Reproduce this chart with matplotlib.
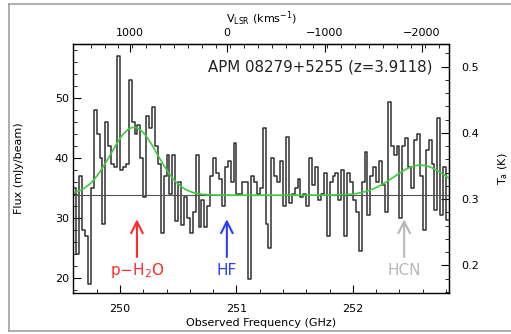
import numpy as np
import matplotlib
matplotlib.use('Agg')
import matplotlib.pyplot as plt
from matplotlib.ticker import MultipleLocator, FixedLocator
from matplotlib.lines import Line2D

# spectrum channels (GHz, mJy/beam)
FREQ_START = 249.6
CHAN_WIDTH = 0.025
flux = [35, 24, 37, 28, 27, 19, 35, 48, 44, 40,
        29, 46, 42, 39, 38.5, 57, 38, 38.5, 39, 53,
        46, 44, 45.5, 40, 33.5, 47, 45, 48.5, 42, 39,
        27.5, 37, 40.5, 34, 40.5, 29.5, 36, 28.8, 33.5, 30,
        27.5, 31, 40.5, 28.5, 33, 28.5, 32, 37, 40, 37.5,
        36.5, 32, 38.5, 39.5, 36, 42.5, 34, 34, 36, 36,
        19.8, 37, 36, 34, 35, 45, 29, 25, 40, 37,
        36, 39.5, 32, 43.5, 32.5, 34, 35, 36.5, 33.5, 34,
        32, 40, 35.5, 38.5, 33, 34, 37.5, 27, 36, 37,
        37.5, 33, 38, 27, 37.5, 36, 33, 31, 24.5, 36,
        41, 30.5, 37, 38.5, 36, 39.5, 35.5, 31, 49.3, 42,
        40.5, 42, 30, 42, 43.3, 38.5, 35, 43, 44, 37,
        28, 41.3, 43, 39, 31.3, 46.7, 30.5, 38.5, 29.7]

# continuum level and gaussian fit (center GHz, peak mJy, sigma GHz)
continuum = 33.8
fit_centers = [250.12, 252.58]
fit_peaks = [11.3, 5.0]
fit_sigmas = [0.20, 0.23]

# line markers
line_names = ['p$-$H$_2$O', 'HF', 'HCN']
line_freqs = [250.146, 250.918, 252.44]
line_colors = ['#ff2b2b', '#2b3dff', '#b8b8b8']

vel_ticks = [1000, 0, -1000, -2000]
temp_ticks = [0.2, 0.3, 0.4, 0.5]

f0 = 250.92          # HF rest freq redshifted, velocity zero
c_kms = 299792.458
K_PER_MJY = 0.00905  # flux -> antenna temperature

freq = FREQ_START + CHAN_WIDTH * (np.arange(len(flux)) + 0.5)

fig = plt.figure(figsize=(5.11, 3.34), dpi=100)
ax = fig.add_axes([73 / 511, 1 - 293 / 334, 376 / 511, 249 / 334])

ax.step(freq, flux, where='mid', color='#303030', lw=1.1)
ax.axhline(continuum, color='#555555', lw=0.8)

fx = np.linspace(249.597, 252.825, 500)
model = np.full_like(fx, continuum)
for c0, a, s in zip(fit_centers, fit_peaks, fit_sigmas):
    model += a * np.exp(-(fx - c0) ** 2 / (2 * s ** 2))
ax.plot(fx, model, color='#3ccc3c', lw=1.2)

for name, lf, col in zip(line_names, line_freqs, line_colors):
    ax.annotate('', xy=(lf, 29.8), xytext=(lf, 23.5),
                arrowprops=dict(arrowstyle='->,head_length=0.7,head_width=0.35',
                                color=col, lw=1.5, mutation_scale=12,
                                shrinkA=0, shrinkB=0))
    ax.text(lf, 21.3, name, color=col, fontsize=11, ha='center', va='center')

ax.text(250.76, 55.2, 'APM 08279+5255 (z=3.9118)', fontsize=10.8,
        ha='left', va='center', color='#222222')

ax.set_xlim(249.597, 252.825)
ax.set_ylim(17.5, 59)
ax.xaxis.set_major_locator(MultipleLocator(1))
ax.xaxis.set_minor_locator(MultipleLocator(0.2))
ax.yaxis.set_major_locator(MultipleLocator(10))
ax.yaxis.set_minor_locator(MultipleLocator(2))
ax.tick_params(which='both', direction='in', top=False, right=False, labelsize=8)
ax.tick_params(axis='x', which='major', length=6, pad=8)
ax.tick_params(axis='y', which='major', length=6, pad=3)
ax.tick_params(which='minor', length=3)

ax.set_xlabel('Observed Frequency (GHz)', fontsize=8, labelpad=3)
ax.set_ylabel('Flux (mJy/beam)', fontsize=8)
ax.yaxis.set_label_coords(-0.13, 0.5)

top = ax.secondary_xaxis('top', functions=(lambda f: c_kms * (1 - f / f0),
                                           lambda v: f0 * (1 - v / c_kms)))
top.xaxis.set_major_locator(FixedLocator(vel_ticks))
top.xaxis.set_minor_locator(FixedLocator(np.arange(1400, -2500, -1000 / 7)))
top.tick_params(which='both', direction='in', labelsize=8)
top.tick_params(which='major', length=6, pad=4)
top.tick_params(which='minor', length=3)
top.set_xlabel('V$_{\\rm LSR}$ (kms$^{-1}$)', fontsize=8, labelpad=4)

right = ax.secondary_yaxis('right', functions=(lambda F: F * K_PER_MJY,
                                               lambda T: T / K_PER_MJY))
right.yaxis.set_major_locator(FixedLocator(temp_ticks))
right.yaxis.set_minor_locator(FixedLocator(np.arange(0.16, 0.54, 0.02)))
right.tick_params(which='both', direction='in', labelsize=8)
right.tick_params(which='major', length=6, pad=9)
right.tick_params(which='minor', length=3)
right.set_ylabel('T$_{\\rm a}$ (K)', fontsize=8, labelpad=12)

for sp in ax.spines.values():
    sp.set_linewidth(1.0)

# grey outer frame, open on the right like the source image
x0, x1 = 9 / 511, 1.0
y0, y1 = 3 / 334, 1 - 4 / 334
for xs, ys in [([x0, x1], [y1, y1]), ([x0, x0], [y0, y1]), ([x0, x1], [y0, y0])]:
    fig.add_artist(Line2D(xs, ys, transform=fig.transFigure,
                          color='#a0a0a0', lw=1.2))

fig.savefig('out.png', dpi=100)
